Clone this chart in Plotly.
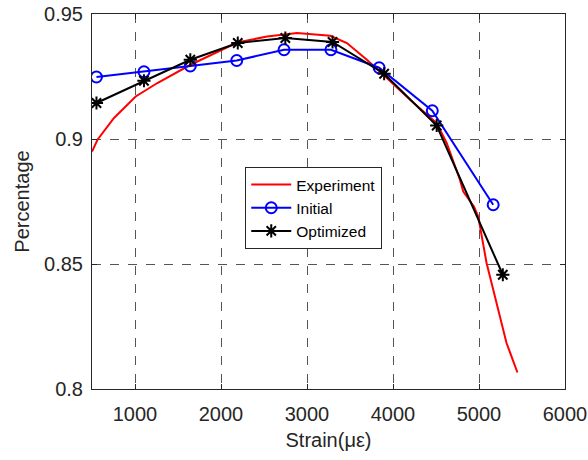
import plotly.graph_objects as go

exp_x = [500, 564, 756, 1008, 1260, 1646, 2188, 2536, 2884, 3270, 3464, 3696, 3888,
         4198, 4508, 4624, 4778, 4817, 4941, 4991, 5088, 5204, 5320, 5447]
exp_y = [0.895, 0.8997, 0.9084, 0.917, 0.9224, 0.9297, 0.9386, 0.941, 0.9424, 0.9413,
         0.9384, 0.9317, 0.9257, 0.9157, 0.9064, 0.8984, 0.8837, 0.879, 0.873, 0.869,
         0.8504, 0.8344, 0.8184, 0.8066]

init_x = [552, 1104, 1643, 2183, 2733, 3278, 3839, 4457, 5165]
init_y = [0.9248, 0.9269, 0.9292, 0.9314, 0.9357, 0.9357, 0.9285, 0.9113, 0.8737]

opt_x = [552, 1104, 1643, 2195, 2748, 3297, 3897, 4508, 5277]
opt_y = [0.9144, 0.9233, 0.9317, 0.9384, 0.9404, 0.9388, 0.9261, 0.9054, 0.8457]

x_ticks = [1000, 2000, 3000, 4000, 5000, 6000]
y_ticks = [0.8, 0.85, 0.9, 0.95]
y_tick_text = ["0.8", "0.85", "0.9", "0.95"]

FONT = "Liberation Sans, Arial, sans-serif"
TXT = "#262626"

fig = go.Figure()
fig.add_trace(go.Scatter(x=exp_x, y=exp_y, mode="lines", name="Experiment",
                         line=dict(color="#ff0000", width=2)))
fig.add_trace(go.Scatter(x=init_x, y=init_y, mode="lines+markers", name="Initial",
                         line=dict(color="#0000ff", width=2),
                         marker=dict(symbol="circle-open", size=11, color="#0000ff",
                                     line=dict(width=2, color="#0000ff"))))
fig.add_trace(go.Scatter(x=opt_x, y=opt_y, mode="lines+markers", name="Optimized",
                         line=dict(color="#000000", width=2),
                         marker=dict(symbol="asterisk-open", size=11, color="#000000",
                                     line=dict(width=2, color="#000000"))))

axis_common = dict(showline=True, linecolor=TXT, linewidth=1, mirror="ticks",
                   ticks="inside", ticklen=5, tickcolor=TXT, automargin=False,
                   showgrid=True, gridcolor="#555555", griddash="dash", gridwidth=1,
                   zeroline=False, tickfont=dict(family=FONT, size=20, color=TXT))

fig.update_xaxes(range=[500, 6000], tickvals=x_ticks, ticklabelstandoff=7,
                 title=dict(text="Strain(με)", font=dict(family=FONT, size=20, color=TXT),
                            standoff=8),
                 **axis_common)
fig.update_yaxes(range=[0.8, 0.95], tickvals=y_ticks, ticktext=y_tick_text,
                 ticklabelstandoff=4,
                 title=dict(text="Percentage", font=dict(family=FONT, size=20, color=TXT),
                            standoff=9),
                 **axis_common)

fig.update_layout(
    width=588, height=460,
    margin=dict(l=92, r=23, t=14, b=71),
    plot_bgcolor="white", paper_bgcolor="white",
    font=dict(family=FONT, color=TXT),
    legend=dict(x=0.324, y=0.592, xanchor="left", yanchor="top",
                bgcolor="white", bordercolor=TXT, borderwidth=1,
                font=dict(family=FONT, size=15.5, color="#000000"),
                itemwidth=40, tracegroupgap=0),
    showlegend=True,
)

fig.write_html("out.html")
